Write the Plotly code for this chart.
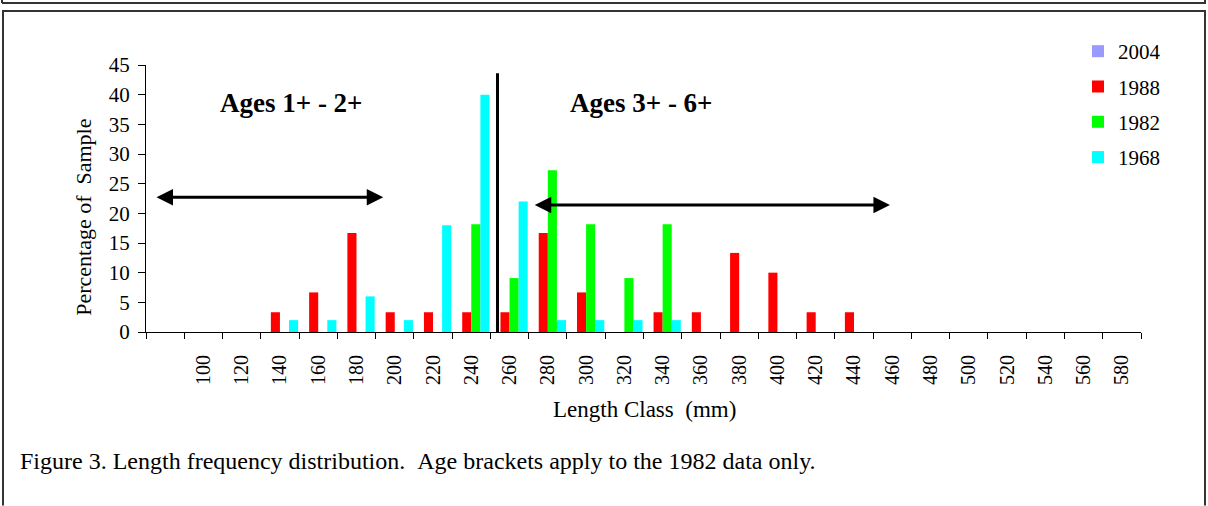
import plotly.graph_objects as go

# ---- data ----
length_class = [100, 120, 140, 160, 180, 200, 220, 240, 260, 280, 300, 320, 340,
                360, 380, 400, 420, 440, 460, 480, 500, 520, 540, 560, 580]
tick_labels = [str(v) for v in length_class]

pct_2004 = [0] * 25
pct_1988 = [0, 0, 3.33, 6.67, 16.67, 3.33, 3.33, 3.33, 3.33, 16.67, 6.67, 0, 3.33,
            3.33, 13.33, 10.0, 3.33, 3.33, 0, 0, 0, 0, 0, 0, 0]
pct_1982 = [0, 0, 0, 0, 0, 0, 0, 18.18, 9.09, 27.27, 18.18, 9.09, 18.18,
            0, 0, 0, 0, 0, 0, 0, 0, 0, 0, 0, 0]
pct_1968 = [0, 0, 2, 2, 6, 2, 18, 40, 22, 2, 2, 2, 2,
            0, 0, 0, 0, 0, 0, 0, 0, 0, 0, 0, 0]

series = [("2004", pct_2004, "#9999FF"),
          ("1988", pct_1988, "#FF0000"),
          ("1982", pct_1982, "#00FF00"),
          ("1968", pct_1968, "#00FFFF")]

FONT = "Liberation Serif, Times New Roman, serif"
W, H = 1208, 506
L, R = 146, 1141          # plot area px
T, B = 65, 332.3


def px_x(px):
    return (px - L) / (R - L)


def px_y(py):
    return (B - py) / (B - T)


fig = go.Figure()
for name, vals, col in series:
    fig.add_trace(go.Bar(x=length_class, y=vals, name=name, marker_color=col,
                         marker_line_width=0, legendgroup=name))

fig.update_layout(
    width=W, height=H,
    margin=dict(l=L, r=W - R, t=T, b=H - B),
    paper_bgcolor="white", plot_bgcolor="white",
    barmode="group", bargap=0.05, bargroupgap=0,
    font=dict(family=FONT, size=20, color="black"),
    showlegend=True,
    legend=dict(x=px_x(1078), y=px_y(31), xanchor="left", yanchor="top",
                font=dict(size=21, family=FONT), traceorder="grouped",
                tracegroupgap=5, bgcolor="rgba(0,0,0,0)"),
)

fig.update_xaxes(
    range=[70, 590], tickmode="array", tickvals=length_class, ticktext=tick_labels,
    tickangle=-90, ticks="", showgrid=False, zeroline=False,
    showline=True, linecolor="black", linewidth=1,
    tickfont=dict(size=20, family=FONT), ticklabelstandoff=14,
    minor=dict(tickmode="linear", tick0=70, dtick=20, ticks="outside",
               ticklen=6, tickcolor="black", showgrid=False),
)
fig.update_yaxes(
    range=[0, 45], tickmode="linear", tick0=0, dtick=5, ticks="outside",
    ticklen=7, tickcolor="black", showgrid=False, zeroline=False,
    showline=True, linecolor="black", linewidth=1,
    tickfont=dict(size=21, family=FONT), ticklabelstandoff=4,
)

# vertical divider line
fig.add_shape(type="line", xref="x", yref="y", x0=253.7, x1=253.7, y0=0, y1=43.6,
              line=dict(color="black", width=3))

# double-headed arrows
fig.add_annotation(xref="x", yref="y", axref="x", ayref="y",
                   x=194, y=22.7, ax=74.7, ay=22.7, text="",
                   showarrow=True, arrowside="end+start", arrowhead=2,
                   arrowsize=1.1, arrowwidth=3, arrowcolor="black")
fig.add_annotation(xref="x", yref="y", axref="x", ayref="y",
                   x=458.8, y=21.4, ax=272.4, ay=21.4, text="",
                   showarrow=True, arrowside="end+start", arrowhead=2,
                   arrowsize=1.1, arrowwidth=3, arrowcolor="black")

# age bracket labels
fig.add_annotation(xref="x", yref="y", x=145.8, y=38.6, text="<b>Ages 1+ - 2+</b>",
                   showarrow=False, font=dict(size=27, family=FONT))
fig.add_annotation(xref="x", yref="y", x=329, y=38.6, text="<b>Ages 3+ - 6+</b>",
                   showarrow=False, font=dict(size=27, family=FONT))

# axis titles
fig.add_annotation(xref="paper", yref="paper", x=px_x(84), y=px_y(218),
                   xanchor="center", yanchor="middle",
                   text="Percentage of \u00a0Sample", textangle=-90, showarrow=False,
                   font=dict(size=22, family=FONT))
fig.add_annotation(xref="paper", yref="paper", x=px_x(644), y=px_y(410),
                   xanchor="center", yanchor="middle",
                   text="Length Class \u00a0(mm)", showarrow=False,
                   font=dict(size=23, family=FONT))

# caption
fig.add_annotation(xref="paper", yref="paper", x=px_x(18), y=px_y(461),
                   xanchor="left", yanchor="middle",
                   text="Figure 3. Length frequency distribution. \u00a0Age brackets apply to the 1982 data only.",
                   showarrow=False, font=dict(size=24, family=FONT))

# page frame lines
frame = dict(color="#333333", width=2)
fig.add_shape(type="line", xref="paper", yref="paper", x0=px_x(2), x1=px_x(1206),
              y0=px_y(3), y1=px_y(3), line=frame)
fig.add_shape(type="line", xref="paper", yref="paper", x0=px_x(2), x1=px_x(1206),
              y0=px_y(11), y1=px_y(11), line=frame)
fig.add_shape(type="line", xref="paper", yref="paper", x0=px_x(3), x1=px_x(3),
              y0=px_y(11), y1=px_y(506), line=frame)
fig.add_shape(type="line", xref="paper", yref="paper", x0=px_x(1205), x1=px_x(1205),
              y0=px_y(11), y1=px_y(506), line=frame)
fig.add_shape(type="line", xref="paper", yref="paper", x0=px_x(2), x1=px_x(2),
              y0=px_y(0), y1=px_y(3), line=frame)
fig.add_shape(type="line", xref="paper", yref="paper", x0=px_x(1205), x1=px_x(1205),
              y0=px_y(0), y1=px_y(3), line=frame)

fig.write_html("out.html", config={"displayModeBar": False},
               post_script="document.body.style.margin='0';document.body.style.overflow='hidden';")
